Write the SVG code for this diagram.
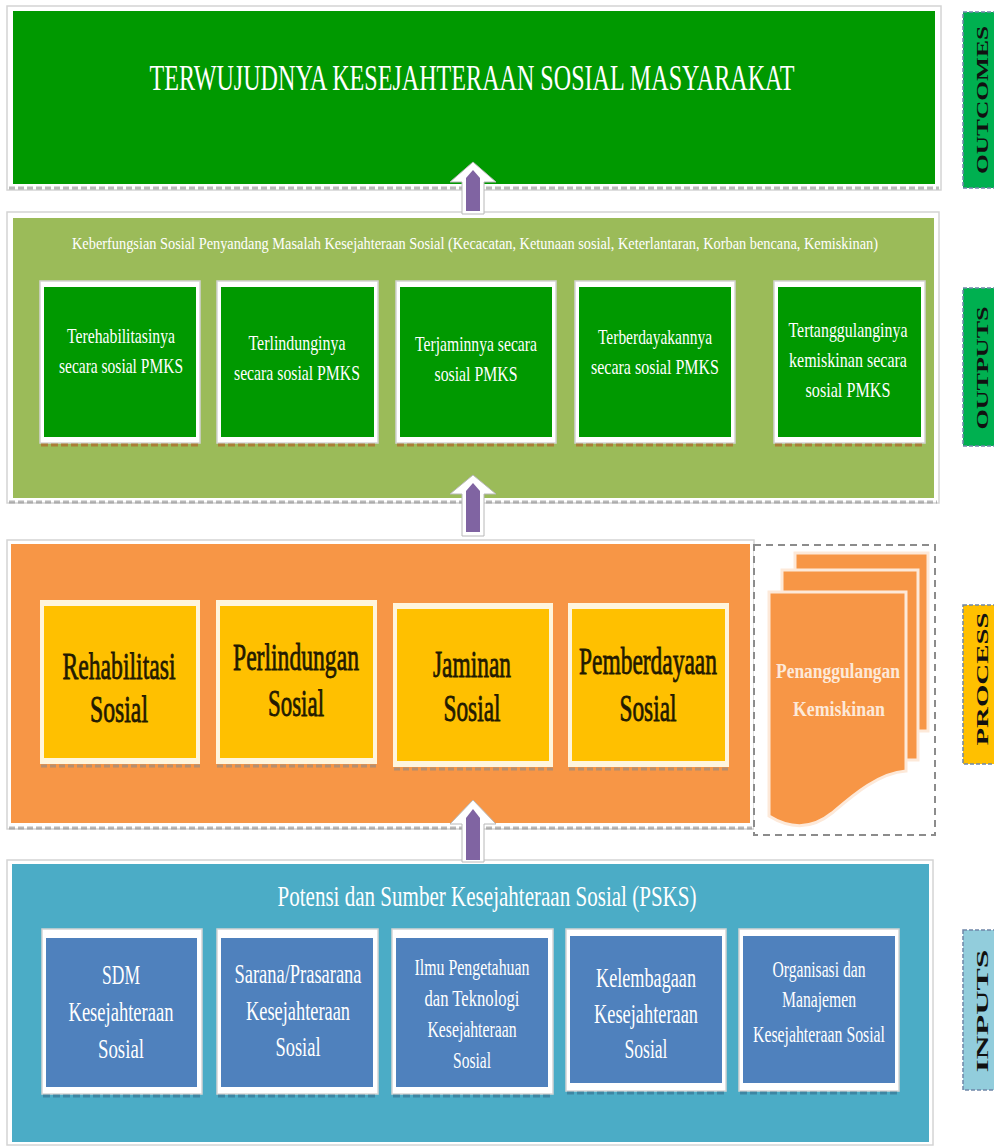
<svg xmlns="http://www.w3.org/2000/svg" width="994" height="1146" viewBox="0 0 994 1146">
  <style>
    .frame { fill: #ffffff; stroke: #d4d4d4; stroke-width: 1.5; }
    .shadow { fill: none; stroke: #8a8a8a; stroke-width: 3; stroke-dasharray: 6 3; opacity: 0.6; }
    .bshadow { fill: none; stroke: #b0642a; stroke-width: 3; stroke-dasharray: 7 3; opacity: 0.7; }
    .gshadow { fill: none; stroke: #2f5f80; stroke-width: 3; stroke-dasharray: 7 3; opacity: 0.5; }
    .serif { font-family: "Liberation Serif", "Times New Roman", serif; }
    .w { fill: #ffffff; }
    .t-out { font-size: 21px; }
    .t-proc { font-size: 23.5px; fill: #231a00; stroke: #231a00; stroke-width: 0.5; }
    .t-in { font-size: 28px; }
    .t-in-s { font-size: 24px; }
    .lab { font-family: "Liberation Serif", serif; font-size: 16px; font-weight: bold; fill: #111111; }
    .labbox { stroke: #6f86a8; stroke-width: 1.5; stroke-dasharray: 4 2; }
    .arrow-out { fill: #ffffff; stroke: #b8b8b8; stroke-width: 1; }
    .arrow-in { fill: #8064a2; }
    .doc { fill: #f79646; stroke: #fde9d9; stroke-width: 3; }
  </style>

  <!-- OUTCOMES panel -->
  <g id="outcomes">
    <rect class="frame" x="7" y="6" width="934" height="184"/>
    <rect x="13" y="11" width="922" height="173" fill="#009900"/>
    <line class="shadow" x1="9" y1="188" x2="939" y2="188"/>
    <!-- tall, narrow capitals: small font stretched vertically -->
    <text class="serif w" transform="scale(1,1.565)" x="472" y="57.5" font-size="23" text-anchor="middle" textLength="645" lengthAdjust="spacingAndGlyphs">TERWUJUDNYA KESEJAHTERAAN SOSIAL MASYARAKAT</text>
  </g>

  <!-- OUTPUTS panel -->
  <g id="outputs">
    <rect class="frame" x="7" y="212" width="932" height="291"/>
    <rect x="13" y="218" width="921" height="280" fill="#9bbb59"/>
    <line class="shadow" x1="9" y1="502" x2="937" y2="502"/>
    <text class="serif w" x="475" y="249" font-size="16" text-anchor="middle" textLength="806" lengthAdjust="spacingAndGlyphs">Keberfungsian Sosial Penyandang Masalah Kesejahteraan Sosial (Kecacatan, Ketunaan sosial, Keterlantaran, Korban bencana, Kemiskinan)</text>
  </g>

  <g id="out-1">
    <rect class="frame" x="40" y="281" width="160" height="162"/>
    <rect x="44" y="287" width="152" height="150" fill="#009900"/>
    <line class="bshadow" x1="41" y1="445" x2="200" y2="445"/>
    <text class="serif w t-out" text-anchor="middle"><tspan x="121" y="343" textLength="108" lengthAdjust="spacingAndGlyphs">Terehabilitasinya</tspan><tspan x="121" y="373" textLength="124" lengthAdjust="spacingAndGlyphs">secara sosial PMKS</tspan></text>
  </g>
  <g id="out-2">
    <rect class="frame" x="217" y="281" width="161" height="162"/>
    <rect x="221" y="287" width="153" height="150" fill="#009900"/>
    <line class="bshadow" x1="218" y1="445" x2="378" y2="445"/>
    <text class="serif w t-out" text-anchor="middle"><tspan x="297" y="350" textLength="97" lengthAdjust="spacingAndGlyphs">Terlindunginya</tspan><tspan x="297" y="380" textLength="126" lengthAdjust="spacingAndGlyphs">secara sosial PMKS</tspan></text>
  </g>
  <g id="out-3">
    <rect class="frame" x="396" y="281" width="160" height="162"/>
    <rect x="400" y="287" width="152" height="150" fill="#009900"/>
    <line class="bshadow" x1="397" y1="445" x2="556" y2="445"/>
    <text class="serif w t-out" text-anchor="middle"><tspan x="476" y="351" textLength="122" lengthAdjust="spacingAndGlyphs">Terjaminnya secara</tspan><tspan x="476" y="381" textLength="83" lengthAdjust="spacingAndGlyphs">sosial PMKS</tspan></text>
  </g>
  <g id="out-4">
    <rect class="frame" x="575" y="281" width="160" height="162"/>
    <rect x="579" y="287" width="152" height="150" fill="#009900"/>
    <line class="bshadow" x1="576" y1="445" x2="735" y2="445"/>
    <text class="serif w t-out" text-anchor="middle"><tspan x="655" y="344" textLength="114" lengthAdjust="spacingAndGlyphs">Terberdayakannya</tspan><tspan x="655" y="374" textLength="128" lengthAdjust="spacingAndGlyphs">secara sosial PMKS</tspan></text>
  </g>
  <g id="out-5">
    <rect class="frame" x="774" y="281" width="151" height="162"/>
    <rect x="778" y="287" width="143" height="150" fill="#009900"/>
    <line class="bshadow" x1="775" y1="445" x2="925" y2="445"/>
    <text class="serif w t-out" text-anchor="middle"><tspan x="848" y="337" textLength="119" lengthAdjust="spacingAndGlyphs">Tertanggulanginya</tspan><tspan x="848" y="367" textLength="118" lengthAdjust="spacingAndGlyphs">kemiskinan secara</tspan><tspan x="848" y="397" textLength="85" lengthAdjust="spacingAndGlyphs">sosial PMKS</tspan></text>
  </g>

  <!-- PROCESS panel -->
  <g id="process">
    <rect class="frame" x="7" y="540" width="747" height="289"/>
    <rect x="11" y="544" width="739" height="279" fill="#f79646"/>
    <line class="shadow" x1="9" y1="828" x2="752" y2="828"/>
  </g>

  <g id="proc-1">
    <rect x="40" y="600" width="160" height="164" fill="#fff5dd"/>
    <rect x="44" y="606" width="152" height="152" fill="#ffc000"/>
    <line class="shadow" x1="41" y1="766" x2="200" y2="766"/>
    <text class="serif t-proc" transform="scale(1,1.617)" text-anchor="middle"><tspan x="119" y="419.9" textLength="113" lengthAdjust="spacingAndGlyphs">Rehabilitasi</tspan><tspan x="119" y="446.5" textLength="58" lengthAdjust="spacingAndGlyphs">Sosial</tspan></text>
  </g>
  <g id="proc-2">
    <rect x="216" y="600" width="161" height="164" fill="#fff5dd"/>
    <rect x="220" y="606" width="153" height="152" fill="#ffc000"/>
    <line class="shadow" x1="217" y1="766" x2="377" y2="766"/>
    <text class="serif t-proc" transform="scale(1,1.617)" text-anchor="middle"><tspan x="296" y="414.3" textLength="126" lengthAdjust="spacingAndGlyphs">Perlindungan</tspan><tspan x="296" y="442.8" textLength="56" lengthAdjust="spacingAndGlyphs">Sosial</tspan></text>
  </g>
  <g id="proc-3">
    <rect x="393" y="603" width="160" height="164" fill="#fff5dd"/>
    <rect x="397" y="609" width="152" height="152" fill="#ffc000"/>
    <line class="shadow" x1="394" y1="769" x2="553" y2="769"/>
    <text class="serif t-proc" transform="scale(1,1.617)" text-anchor="middle"><tspan x="472" y="418.7" textLength="78" lengthAdjust="spacingAndGlyphs">Jaminan</tspan><tspan x="472" y="445.9" textLength="57" lengthAdjust="spacingAndGlyphs">Sosial</tspan></text>
  </g>
  <g id="proc-4">
    <rect x="568" y="603" width="161" height="164" fill="#fff5dd"/>
    <rect x="572" y="609" width="153" height="152" fill="#ffc000"/>
    <line class="shadow" x1="569" y1="769" x2="729" y2="769"/>
    <text class="serif t-proc" transform="scale(1,1.617)" text-anchor="middle"><tspan x="648" y="416.8" textLength="138" lengthAdjust="spacingAndGlyphs">Pemberdayaan</tspan><tspan x="648" y="445.9" textLength="57" lengthAdjust="spacingAndGlyphs">Sosial</tspan></text>
  </g>

  <!-- Poverty reduction: stacked documents in a dashed frame -->
  <g id="proc-kemiskinan">
    <rect x="754" y="545" width="181" height="290" fill="#ffffff" stroke="#8c8c8c" stroke-width="2" stroke-dasharray="7 5"/>
    <rect class="doc" x="795" y="553" width="133" height="178"/>
    <rect class="doc" x="782" y="570" width="136" height="190"/>
    <path class="doc" d="M769,592 H906 V771 C878,773 852,796 832,813 C816,826 795,832 769,816 Z"/>
    <text class="serif" transform="scale(1,1.257)" fill="#fde9d9" font-size="17.5" font-weight="bold" text-anchor="middle"><tspan x="838" y="539.4" textLength="124" lengthAdjust="spacingAndGlyphs">Penanggulangan</tspan><tspan x="839" y="569.6" textLength="92" lengthAdjust="spacingAndGlyphs">Kemiskinan</tspan></text>
  </g>

  <!-- INPUTS panel -->
  <g id="inputs">
    <rect class="frame" x="7" y="860" width="926" height="285"/>
    <rect x="12" y="864" width="917" height="278" fill="#4bacc6"/>
    <text class="serif w" x="487" y="906" font-size="29" text-anchor="middle" textLength="419" lengthAdjust="spacingAndGlyphs">Potensi dan Sumber Kesejahteraan Sosial (PSKS)</text>
  </g>

  <g id="in-1">
    <rect class="frame" x="42" y="929" width="160" height="165"/>
    <rect x="46" y="938" width="151" height="149" fill="#4f81bd"/>
    <line class="gshadow" x1="43" y1="1096" x2="202" y2="1096"/>
    <text class="serif w t-in" text-anchor="middle"><tspan x="121" y="984" textLength="38" lengthAdjust="spacingAndGlyphs">SDM</tspan><tspan x="121" y="1021" textLength="105" lengthAdjust="spacingAndGlyphs">Kesejahteraan</tspan><tspan x="121" y="1058" textLength="46" lengthAdjust="spacingAndGlyphs">Sosial</tspan></text>
  </g>
  <g id="in-2">
    <rect class="frame" x="217" y="929" width="161" height="165"/>
    <rect x="221" y="938" width="152" height="149" fill="#4f81bd"/>
    <line class="gshadow" x1="218" y1="1096" x2="378" y2="1096"/>
    <text class="serif w t-in" text-anchor="middle"><tspan x="298" y="983" textLength="127" lengthAdjust="spacingAndGlyphs">Sarana/Prasarana</tspan><tspan x="298" y="1020" textLength="104" lengthAdjust="spacingAndGlyphs">Kesejahteraan</tspan><tspan x="298" y="1056" textLength="45" lengthAdjust="spacingAndGlyphs">Sosial</tspan></text>
  </g>
  <g id="in-3">
    <rect class="frame" x="392" y="929" width="161" height="165"/>
    <rect x="396" y="938" width="152" height="149" fill="#4f81bd"/>
    <line class="gshadow" x1="393" y1="1096" x2="553" y2="1096"/>
    <text class="serif w t-in-s" text-anchor="middle"><tspan x="472" y="975" textLength="115" lengthAdjust="spacingAndGlyphs">Ilmu Pengetahuan</tspan><tspan x="472" y="1006" textLength="95" lengthAdjust="spacingAndGlyphs">dan Teknologi</tspan><tspan x="472" y="1037" textLength="89" lengthAdjust="spacingAndGlyphs">Kesejahteraan</tspan><tspan x="472" y="1068" textLength="38" lengthAdjust="spacingAndGlyphs">Sosial</tspan></text>
  </g>
  <g id="in-4">
    <rect class="frame" x="566" y="929" width="160" height="162"/>
    <rect x="570" y="936" width="152" height="147" fill="#4f81bd"/>
    <line class="gshadow" x1="567" y1="1093" x2="726" y2="1093"/>
    <text class="serif w t-in" text-anchor="middle"><tspan x="646" y="987" textLength="100" lengthAdjust="spacingAndGlyphs">Kelembagaan</tspan><tspan x="646" y="1023" textLength="104" lengthAdjust="spacingAndGlyphs">Kesejahteraan</tspan><tspan x="646" y="1058" textLength="43" lengthAdjust="spacingAndGlyphs">Sosial</tspan></text>
  </g>
  <g id="in-5">
    <rect class="frame" x="739" y="929" width="160" height="162"/>
    <rect x="743" y="936" width="152" height="147" fill="#4f81bd"/>
    <line class="gshadow" x1="740" y1="1093" x2="899" y2="1093"/>
    <text class="serif w t-in-s" text-anchor="middle"><tspan x="819" y="977" textLength="93" lengthAdjust="spacingAndGlyphs">Organisasi dan</tspan><tspan x="819" y="1007" textLength="74" lengthAdjust="spacingAndGlyphs">Manajemen</tspan><tspan x="819" y="1042" textLength="132" lengthAdjust="spacingAndGlyphs">Kesejahteraan Sosial</tspan></text>
  </g>

  <!-- Level labels along the right edge -->
  <g id="label-outcomes">
    <rect class="labbox" x="963" y="12" width="40" height="176" fill="#00b050"/>
    <text class="lab" transform="translate(983,100) rotate(-90)" text-anchor="middle" y="5" textLength="148" lengthAdjust="spacingAndGlyphs">OUTCOMES</text>
  </g>
  <g id="label-outputs">
    <rect class="labbox" x="963" y="288" width="40" height="158" fill="#00b050"/>
    <text class="lab" transform="translate(983,368) rotate(-90)" text-anchor="middle" y="5" textLength="123" lengthAdjust="spacingAndGlyphs">OUTPUTS</text>
  </g>
  <g id="label-process">
    <rect class="labbox" x="963" y="605" width="40" height="159" fill="#ffc000" stroke="#7d7d5a"/>
    <text class="lab" transform="translate(983,679) rotate(-90)" text-anchor="middle" y="5" textLength="133" lengthAdjust="spacingAndGlyphs">PROCESS</text>
  </g>
  <g id="label-inputs">
    <rect class="labbox" x="963" y="930" width="40" height="160" fill="#92cddc"/>
    <text class="lab" transform="translate(983,1011) rotate(-90)" text-anchor="middle" y="5" textLength="123" lengthAdjust="spacingAndGlyphs">INPUTS</text>
  </g>

  <!-- Connectors: block arrows between levels -->
  <g id="connectors">
    <g id="arrow-inputs-process">
      <path class="arrow-out" d="M473,800 L496,824 L484,824 L484,862 L462,862 L462,824 L450,824 Z"/>
      <path class="arrow-in" d="M473,809 L480,818 L480,860 L466,860 L466,818 Z"/>
    </g>
    <g id="arrow-process-outputs">
      <path class="arrow-out" d="M473,475 L496,494 L484,494 L484,536 L462,536 L462,494 L450,494 Z"/>
      <path class="arrow-in" d="M473,483 L480,491 L480,532 L466,532 L466,491 Z"/>
    </g>
    <g id="arrow-outputs-outcomes">
      <path class="arrow-out" d="M473,162 L496,182 L484,182 L484,214 L462,214 L462,182 L450,182 Z"/>
      <path class="arrow-in" d="M473,170 L480,178 L480,211 L466,211 L466,178 Z"/>
    </g>
  </g>
</svg>
